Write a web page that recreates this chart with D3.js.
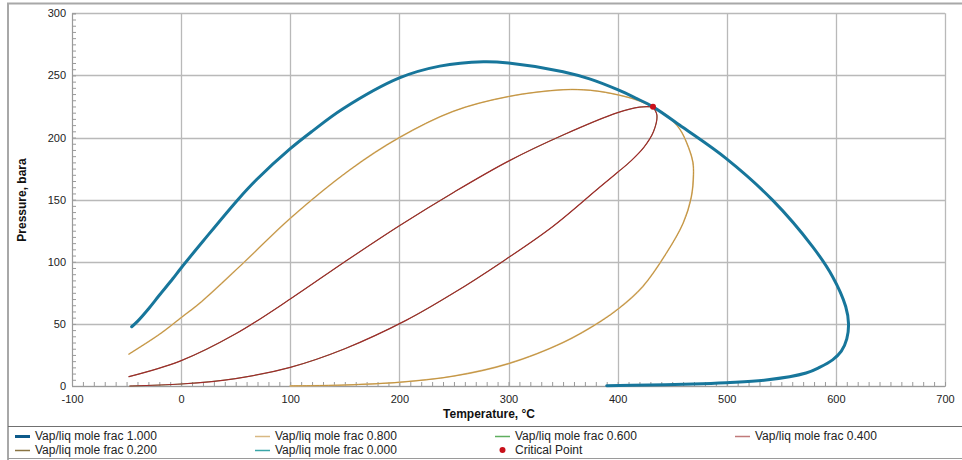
<!DOCTYPE html>
<html>
<head>
<meta charset="utf-8">
<script src="https://cdn.jsdelivr.net/npm/d3@7"></script>
<style>
  body { margin: 0; background: #fff; }
  svg { display: block; font-family: "Liberation Sans", Arial, sans-serif; }
</style>
</head>
<body>
<svg width="962" height="460"></svg>
<script>
// phase envelope, [temperature C, pressure bara]
var env100 = [[-45.3,47.7],[-40,52],[-30,62],[-20,73],[-7.5,86.5],[0,95],[20,116.5],[52,150],[69,166],
  [100,191],[120,205],[148,223],[200,248],[237,257.5],[277,261],[300,260],[350,253],[375,247],
  [400,238.5],[416,232],[432.4,224.7],[460,208],[499.6,183],[542,149.6],[578.8,112],[597,88],[609,64],
  [611.6,50],[610,38],[605,28],[597,21],[585,15],[572.7,10.5],[536,4.8],[499.6,2.7],[469,1.6],
  [429,0.8],[390,0.2]];

// tan loop (0.800 and 0.200 lie on top of each other)
var tanUpper = [[-47.8,25.7],[-20,41.5],[0,55],[18.8,68],[57,99],[100,135],[154.6,174],[200,200],
  [249,221],[300,233],[350,238.5],[375,238],[402,234],[420,229.5],[432.4,224.7]];
var tanLower = [[432.4,224.7],[444.5,218],[456.8,207],[465,192],[469,180],[469.5,170],[467.5,152],
  [460,131],[444.5,106.7],[423,80],[402,63],[383.5,51.5],[350,35],[300,18],[250,8],[200,3],
  [150,0.8],[100,0.1]];

// red loop (0.600 and 0.400 lie on top of each other)
var redUpper = [[-47.8,7.5],[-1,20],[50,42],[100,70],[150,100],[200,129],[250,156],[300,181],
  [350,202],[400,220],[420,224.5],[432.4,224.7]];
var redLower = [[432.4,224.7],[436,218],[433,205],[424,192],[412,181],[400,172],[383.5,160],[340,128],
  [292,98.7],[250,75],[206.5,53],[150,30],[100,15],[50,6],[0,1.6],[-47,0]];

var critical = [432.4, 224.7];

var xTicks = [-100, 0, 100, 200, 300, 400, 500, 600, 700];
var yTicks = [0, 50, 100, 150, 200, 250, 300];

var series = [
  {name: "Vap/liq mole frac 1.000", pts: env100, color: "#17769b", key: "#0d5a8a", w: 3},
  {name: "Vap/liq mole frac 0.800", pts: tanUpper.concat(tanLower), color: "#dcbd8c", key: "#d8b883", w: 1.6},
  {name: "Vap/liq mole frac 0.600", pts: redUpper.concat(redLower), color: "#6fb26f", key: "#5fae5f", w: 1},
  {name: "Vap/liq mole frac 0.400", pts: redUpper.concat(redLower), color: "#a02a2a", key: "#c07a7a", w: 1.2},
  {name: "Vap/liq mole frac 0.200", pts: tanUpper.concat(tanLower), color: "#bf8e34", key: "#8a7442", w: 0.9},
  {name: "Vap/liq mole frac 0.000", pts: env100, color: "#17769b", key: "#3aa6a8", w: 0}
];

var svg = d3.select("svg");
var L = 72, R = 945, T = 13.3, B = 386;

var x = d3.scaleLinear().domain([-100, 700]).range([L, R]);
var y = d3.scaleLinear().domain([0, 300]).range([B, T]);

// outer frame
svg.append("path").attr("d", "M8,460 V3.5 H962").attr("fill", "none")
  .attr("stroke", "#a8a8a8").attr("stroke-width", 2);
svg.append("line").attr("x1", 8).attr("x2", 962).attr("y1", 426.5).attr("y2", 426.5)
  .attr("stroke", "#707070");
svg.append("line").attr("x1", 8).attr("x2", 962).attr("y1", 458.5).attr("y2", 458.5)
  .attr("stroke", "#9a9a9a");

// grid
var g = svg.append("g");
g.selectAll(".vg").data(xTicks).enter().append("line")
  .attr("x1", function(d) { return Math.round(x(d)) + 0.5; })
  .attr("x2", function(d) { return Math.round(x(d)) + 0.5; })
  .attr("y1", T).attr("y2", B)
  .attr("stroke", "#b9b9b9").attr("stroke-width", 1.3);
g.selectAll(".hg").data(yTicks).enter().append("line")
  .attr("y1", function(d) { return Math.round(y(d)) + 0.5; })
  .attr("y2", function(d) { return Math.round(y(d)) + 0.5; })
  .attr("x1", L).attr("x2", R)
  .attr("stroke", "#b9b9b9").attr("stroke-width", 1.3);

// axes with minor ticks inside the plot
var xAxis = d3.axisBottom(x).tickValues(d3.range(-100, 701, 10)).tickSize(-4)
  .tickFormat(function(d) { return d % 100 === 0 ? d : ""; });
var gx = svg.append("g").attr("transform", "translate(0," + B + ")").call(xAxis);
var yAxis = d3.axisLeft(y).tickValues(d3.range(0, 301, 5)).tickSize(-4)
  .tickFormat(function(d) { return d % 50 === 0 ? d : ""; });
var gy = svg.append("g").attr("transform", "translate(" + L + ",0)").call(yAxis);

[gx, gy].forEach(function(a) {
  a.select(".domain").attr("stroke", "#9a9a9a");
  a.selectAll(".tick line").attr("stroke", "#9a9a9a");
  a.selectAll("text").attr("fill", "#222").style("font-size", "11px")
    .style("font-family", "'Liberation Sans', Arial, sans-serif");
});
gx.selectAll("text").attr("dy", "0.71em").attr("y", 9);
gy.selectAll("text").attr("x", -6);

// axis titles
svg.append("text").attr("x", 489).attr("y", 418).attr("text-anchor", "middle")
  .style("font-size", "12px").style("font-weight", "bold").attr("fill", "#111")
  .text("Temperature, °C");
svg.append("text").attr("transform", "translate(26,200) rotate(-90)").attr("text-anchor", "middle")
  .style("font-size", "12px").style("font-weight", "bold").attr("fill", "#111")
  .text("Pressure, bara");

// curves
var line = d3.line()
  .x(function(d) { return x(d[0]); })
  .y(function(d) { return y(d[1]); })
  .curve(d3.curveCatmullRom.alpha(0.5));

var drawOrder = [5, 1, 2, 3, 4, 0];
var plot = svg.append("g");
drawOrder.forEach(function(i) {
  var s = series[i];
  if (s.w === 0) return;
  plot.append("path").datum(s.pts).attr("d", line)
    .attr("fill", "none").attr("stroke", s.color).attr("stroke-width", s.w)
    .attr("stroke-linejoin", "round").attr("stroke-linecap", "round");
});

plot.append("circle").attr("cx", x(critical[0])).attr("cy", y(critical[1])).attr("r", 3)
  .attr("fill", "#c8101a");

// legend
var legendItems = series.map(function(s) { return {name: s.name, color: s.key, w: s.name.indexOf("1.000") > 0 ? 3 : 1.5}; });
legendItems.push({name: "Critical Point", dot: true});
var colX = [15, 255, 495, 735];
var rowY = [436, 450];
var lg = svg.append("g");
legendItems.forEach(function(d, i) {
  var cx = colX[i % 4], cy = rowY[Math.floor(i / 4)];
  if (d.dot) {
    lg.append("circle").attr("cx", cx + 7.5).attr("cy", cy).attr("r", 3).attr("fill", "#c8101a");
  } else {
    lg.append("line").attr("x1", cx).attr("x2", cx + 15).attr("y1", cy + 0.5).attr("y2", cy + 0.5)
      .attr("stroke", d.color).attr("stroke-width", d.w);
  }
  lg.append("text").attr("x", cx + 20).attr("y", cy).attr("dy", "0.35em")
    .style("font-size", "12px").attr("fill", "#222").text(d.name);
});
</script>
</body>
</html>
